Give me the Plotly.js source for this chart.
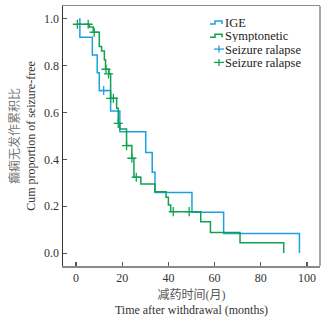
<!DOCTYPE html>
<html>
<head>
<meta charset="utf-8">
<script src="https://cdn.plot.ly/plotly-3.0.1.min.js"></script>
<style>html,body{margin:0;padding:0;background:#fff;}#chart{width:329px;height:321px;}</style>
</head>
<body>
<div id="chart"></div>
<script>
// IGE survival steps (time in months, cumulative proportion seizure-free)
const igeTime = [1.3, 1.7, 7.1, 9.2, 10.1, 15.0, 19.0, 30.2, 33.0, 34.2, 50.2, 63.9, 96.7];
const igeSurv = [1.0, 0.922, 0.846, 0.770, 0.694, 0.607, 0.518, 0.430, 0.345, 0.259, 0.175, 0.084, 0.0];
const igeCensTime = [12.0];
const igeCensSurv = [0.694];

// Symptonetic survival steps
const symTime = [0.6, 5.8, 7.5, 10.1, 11.1, 12.3, 12.8, 14.3, 15.0, 17.6, 18.3, 19.0, 21.9, 24.2, 25.1, 28.1, 34.2, 39.0, 40.0, 41.0, 54.0, 58.2, 71.0, 89.9];
const symSurv = [0.977, 0.965, 0.943, 0.882, 0.863, 0.825, 0.785, 0.765, 0.661, 0.618, 0.554, 0.530, 0.459, 0.405, 0.324, 0.295, 0.262, 0.238, 0.205, 0.177, 0.134, 0.088, 0.044, 0.0];
const symCensTime = [0.6, 5.3, 7.9, 13.0, 14.1, 15.0, 16.2, 18.3, 21.9, 24.2, 26.1, 42.1, 49.0];
const symCensSurv = [0.977, 0.977, 0.943, 0.785, 0.765, 0.661, 0.661, 0.554, 0.459, 0.405, 0.324, 0.177, 0.177];

const xTicks = [0, 20, 40, 60, 80, 100];
const yTicks = [0.0, 0.2, 0.4, 0.6, 0.8, 1.0];
const legendLabels = ['IGE', 'Symptonetic', 'Seizure ralapse', 'Seizure ralapse'];

const BLUE = '#1ea0e0';
const GREEN = '#12a150';
const FONT = '"Liberation Serif", "Noto Sans CJK SC", serif';

const W = 329, H = 321;
const M = {l: 63, r: 9, t: 6, b: 55};
const PW = W - M.l - M.r, PH = H - M.t - M.b;
const px = x => (x - M.l) / PW;
const py = y => (H - M.b - y) / PH;

const traces = [
  {x: igeTime, y: igeSurv, mode: 'lines', line: {shape: 'hv', color: BLUE, width: 1.5}, showlegend: false, hoverinfo: 'skip'},
  {x: symTime, y: symSurv, mode: 'lines', line: {shape: 'hv', color: GREEN, width: 1.5}, showlegend: false, hoverinfo: 'skip'},
  {x: igeCensTime, y: igeCensSurv, mode: 'markers', marker: {symbol: 'cross-thin', size: 6.5, line: {color: BLUE, width: 1.3}}, showlegend: false},
  {x: symCensTime, y: symCensSurv, mode: 'markers', marker: {symbol: 'cross-thin', size: 6.5, line: {color: GREEN, width: 1.3}}, showlegend: false}
];

// custom legend
const legRows = [22.5, 35.8, 49.1, 62.4];
const legColors = [BLUE, GREEN, BLUE, GREEN];
const shapes = [];
const annotations = [];
legRows.forEach((ry, i) => {
  if (i < 2) {
    const path = 'M' + px(210) + ',' + py(ry + 1.5) + ' L' + px(215) + ',' + py(ry + 1.5) +
      ' L' + px(215) + ',' + py(ry - 1.5) + ' L' + px(222) + ',' + py(ry - 1.5) +
      ' L' + px(222) + ',' + py(ry + 1.5);
    shapes.push({type: 'path', xref: 'paper', yref: 'paper', path: path, line: {color: legColors[i], width: 1.5}});
  } else {
    shapes.push({type: 'line', xref: 'paper', yref: 'paper', x0: px(214), x1: px(224), y0: py(ry), y1: py(ry), line: {color: legColors[i], width: 1.3}});
    shapes.push({type: 'line', xref: 'paper', yref: 'paper', x0: px(219), x1: px(219), y0: py(ry - 3.5), y1: py(ry + 3.5), line: {color: legColors[i], width: 1.3}});
  }
  annotations.push({xref: 'paper', yref: 'paper', x: px(224), y: py(ry), xanchor: 'left', yanchor: 'middle',
    text: legendLabels[i], showarrow: false, height: 13, borderpad: 0,
    font: {family: FONT, size: 12.5, color: '#222'}});
});
// right border
shapes.push({type: 'line', xref: 'paper', yref: 'paper', x0: 1, x1: 1, y0: 0, y1: 1, line: {color: '#8a8a8a', width: 1.5}});

const layout = {
  width: W, height: H,
  margin: M,
  paper_bgcolor: '#fff', plot_bgcolor: '#fff',
  font: {family: FONT, size: 12, color: '#333'},
  xaxis: {
    range: [-5.6, 105.6], tickvals: xTicks, ticktext: xTicks.map(String),
    ticks: 'inside', ticklen: 4, tickwidth: 1.2, tickcolor: '#555',
    showline: true, linecolor: '#8a8a8a', linewidth: 1.5, mirror: true,
    showgrid: false, zeroline: false,
    tickfont: {family: FONT, size: 12, color: '#333'},
    title: {text: '<span style="color:#555">减药时间(月)</span><br>Time after withdrawal (months)', font: {family: FONT, size: 12, color: '#333'}, standoff: 6}
  },
  yaxis: {
    range: [-0.055, 1.055], tickvals: yTicks, ticktext: yTicks.map(v => v.toFixed(1)),
    ticks: 'inside', ticklen: 4, tickwidth: 1.2, tickcolor: '#555',
    showline: true, linecolor: '#333', linewidth: 1.5, mirror: false,
    showgrid: false, zeroline: false,
    tickfont: {family: FONT, size: 12, color: '#333'},
    title: {text: '<span style="color:#777">癫痫无发作累积比</span><br>Cum proportion of seizure-free', font: {family: FONT, size: 12, color: '#333'}, standoff: 6}
  },
  shapes: shapes,
  annotations: annotations,
  showlegend: false
};

Plotly.newPlot('chart', traces, layout, {staticPlot: true, displayModeBar: false});
</script>
</body>
</html>
